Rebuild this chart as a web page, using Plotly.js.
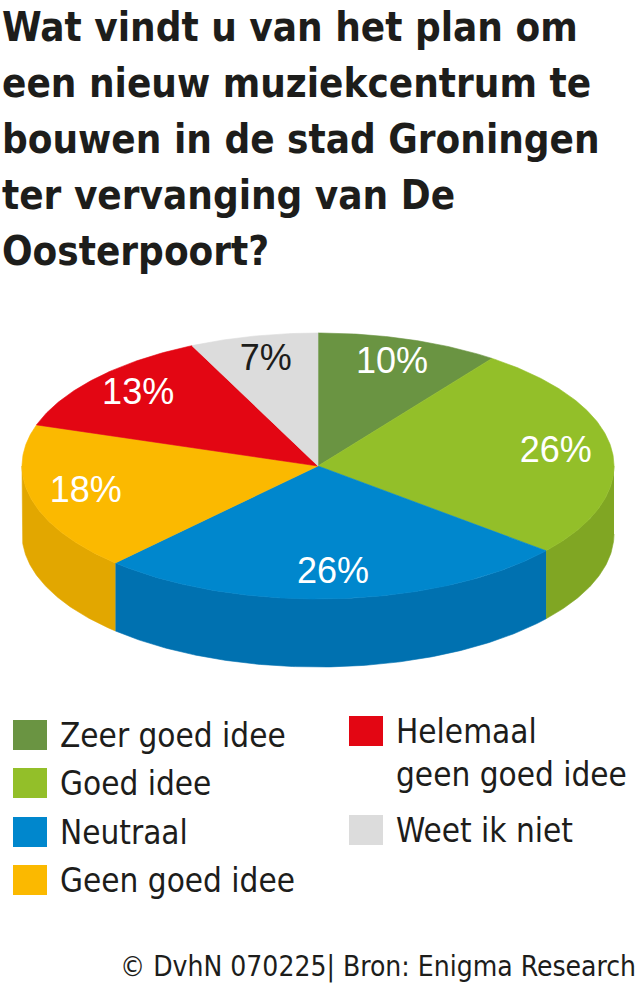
<!DOCTYPE html>
<html>
<head>
<meta charset="utf-8">
<script src="https://cdn.plot.ly/plotly-3.0.1.min.js"></script>
<style>html,body{margin:0;padding:0;background:#fff;}#chart{width:640px;height:983px;}</style>
</head>
<body>
<div id="chart"></div>
<script>
// ---- data ----
const categories = ['Zeer goed idee', 'Goed idee', 'Neutraal', 'Geen goed idee', 'Helemaal geen goed idee', 'Weet ik niet'];
const legendLabels = ['Zeer goed idee', 'Goed idee', 'Neutraal', 'Geen goed idee', 'Helemaal<br>geen goed idee', 'Weet ik niet'];
const values = [10, 26, 26, 18, 13, 7];
const pctLabels = ['10%', '26%', '26%', '18%', '13%', '7%'];
const topColors = ['#6a9442', '#93bf29', '#0087cd', '#fbb900', '#e30613', '#dcdcdc'];
const sideColors = ['#5a7f37', '#80a623', '#0071b0', '#e2a700', '#c00510', '#bcbcbc'];
const labelColors = ['#ffffff', '#ffffff', '#ffffff', '#ffffff', '#ffffff', '#1d1d1b'];
const titleLines = ['Wat vindt u van het plan om', 'een nieuw muziekcentrum te', 'bouwen in de stad Groningen', 'ter vervanging van De', 'Oosterpoort?'];
const sourceText = '© DvhN 070225| Bron: Enigma Research';

// ---- geometry (layout) ----
const G = {cx: 318, cy: 466, rx: 296, ry: 133, depth: 68, labelR: 0.81};
function pt(t, dy) { return [G.cx + G.rx * Math.sin(t), G.cy - G.ry * Math.cos(t) + (dy || 0)]; }
function arc(t0, t1, dy) {
  const n = Math.max(4, Math.ceil((t1 - t0) / 0.01));
  const xs = [], ys = [];
  for (let i = 0; i <= n; i++) { const p = pt(t0 + (t1 - t0) * i / n, dy); xs.push(p[0]); ys.push(p[1]); }
  return [xs, ys];
}
const total = values.reduce((a, b) => a + b, 0);
const traces = [];
const tops = [];
const lab = {x: [], y: []};
let cum = 0;
values.forEach((v, i) => {
  const t0 = cum / total * 2 * Math.PI;
  const t1 = (cum + v) / total * 2 * Math.PI;
  cum += v;
  const s0 = Math.max(t0, Math.PI / 2), s1 = Math.min(t1, 3 * Math.PI / 2);
  if (s1 > s0) {
    const a = arc(s0, s1, 0), b = arc(s0, s1, G.depth);
    traces.push({type: 'scatter', mode: 'lines', fill: 'toself', fillcolor: sideColors[i],
      x: a[0].concat(b[0].slice().reverse()), y: a[1].concat(b[1].slice().reverse()),
      line: {color: sideColors[i], width: 0.6}, hoverinfo: 'skip', showlegend: false});
  }
  const a = arc(t0, t1, 0);
  tops.push({type: 'scatter', mode: 'lines', fill: 'toself', fillcolor: topColors[i], name: categories[i],
    x: [G.cx].concat(a[0]).concat([G.cx]), y: [G.cy].concat(a[1]).concat([G.cy]),
    line: {color: topColors[i], width: 0.6}, hoverinfo: 'skip', showlegend: false});
  const tm = (t0 + t1) / 2;
  lab.x.push(G.cx + G.rx * G.labelR * Math.sin(tm));
  lab.y.push(G.cy - G.ry * G.labelR * Math.cos(tm));
});
traces.push(...tops);
traces.push({type: 'scatter', mode: 'text', x: lab.x, y: lab.y, text: pctLabels,
  textposition: 'middle center', textfont: {family: 'Liberation Sans, Arial, sans-serif', size: 36, color: labelColors},
  hoverinfo: 'skip', showlegend: false});

// ---- legend & texts (layout) ----
const slots = [
  {x: 13, y: 735}, {x: 13, y: 783}, {x: 13, y: 832}, {x: 13, y: 880},
  {x: 349, y: 731, ty: 753}, {x: 349, y: 830}
];
const shapes = [], annotations = [];
const legendFont = {family: 'DejaVu Sans Condensed, Liberation Sans, sans-serif', size: 33, color: '#1d1d1b'};
slots.forEach((s, i) => {
  shapes.push({type: 'rect', xref: 'x', yref: 'y', x0: s.x, x1: s.x + 34, y0: s.y - 15, y1: s.y + 15,
    fillcolor: topColors[i], line: {width: 0}});
  annotations.push({xref: 'x', yref: 'y', x: s.x + 45, y: s.ty || s.y, xanchor: 'left', yanchor: 'middle',
    align: 'left', showarrow: false, text: legendLabels[i], font: legendFont});
});
titleLines.forEach((t, i) => {
  annotations.push({xref: 'x', yref: 'y', x: 0, y: 27 + 56 * i, xanchor: 'left', yanchor: 'middle',
    showarrow: false, text: t,
    font: {family: 'DejaVu Sans Condensed, sans-serif', size: 40, color: '#1d1d1b', weight: 'bold'}});
});
annotations.push({xref: 'x', yref: 'y', x: 638, y: 966, xanchor: 'right', yanchor: 'middle', showarrow: false,
  text: sourceText, font: {family: 'DejaVu Sans Condensed, Liberation Sans, sans-serif', size: 28, color: '#1d1d1b'}});

const layout = {
  width: 640, height: 983,
  margin: {l: 0, r: 0, t: 0, b: 0, pad: 0},
  paper_bgcolor: '#ffffff', plot_bgcolor: '#ffffff',
  xaxis: {range: [0, 640], visible: false, fixedrange: true},
  yaxis: {range: [983, 0], visible: false, fixedrange: true},
  shapes: shapes, annotations: annotations, showlegend: false, hovermode: false
};
Plotly.newPlot('chart', traces, layout, {displayModeBar: false, staticPlot: true});
</script>
</body>
</html>
